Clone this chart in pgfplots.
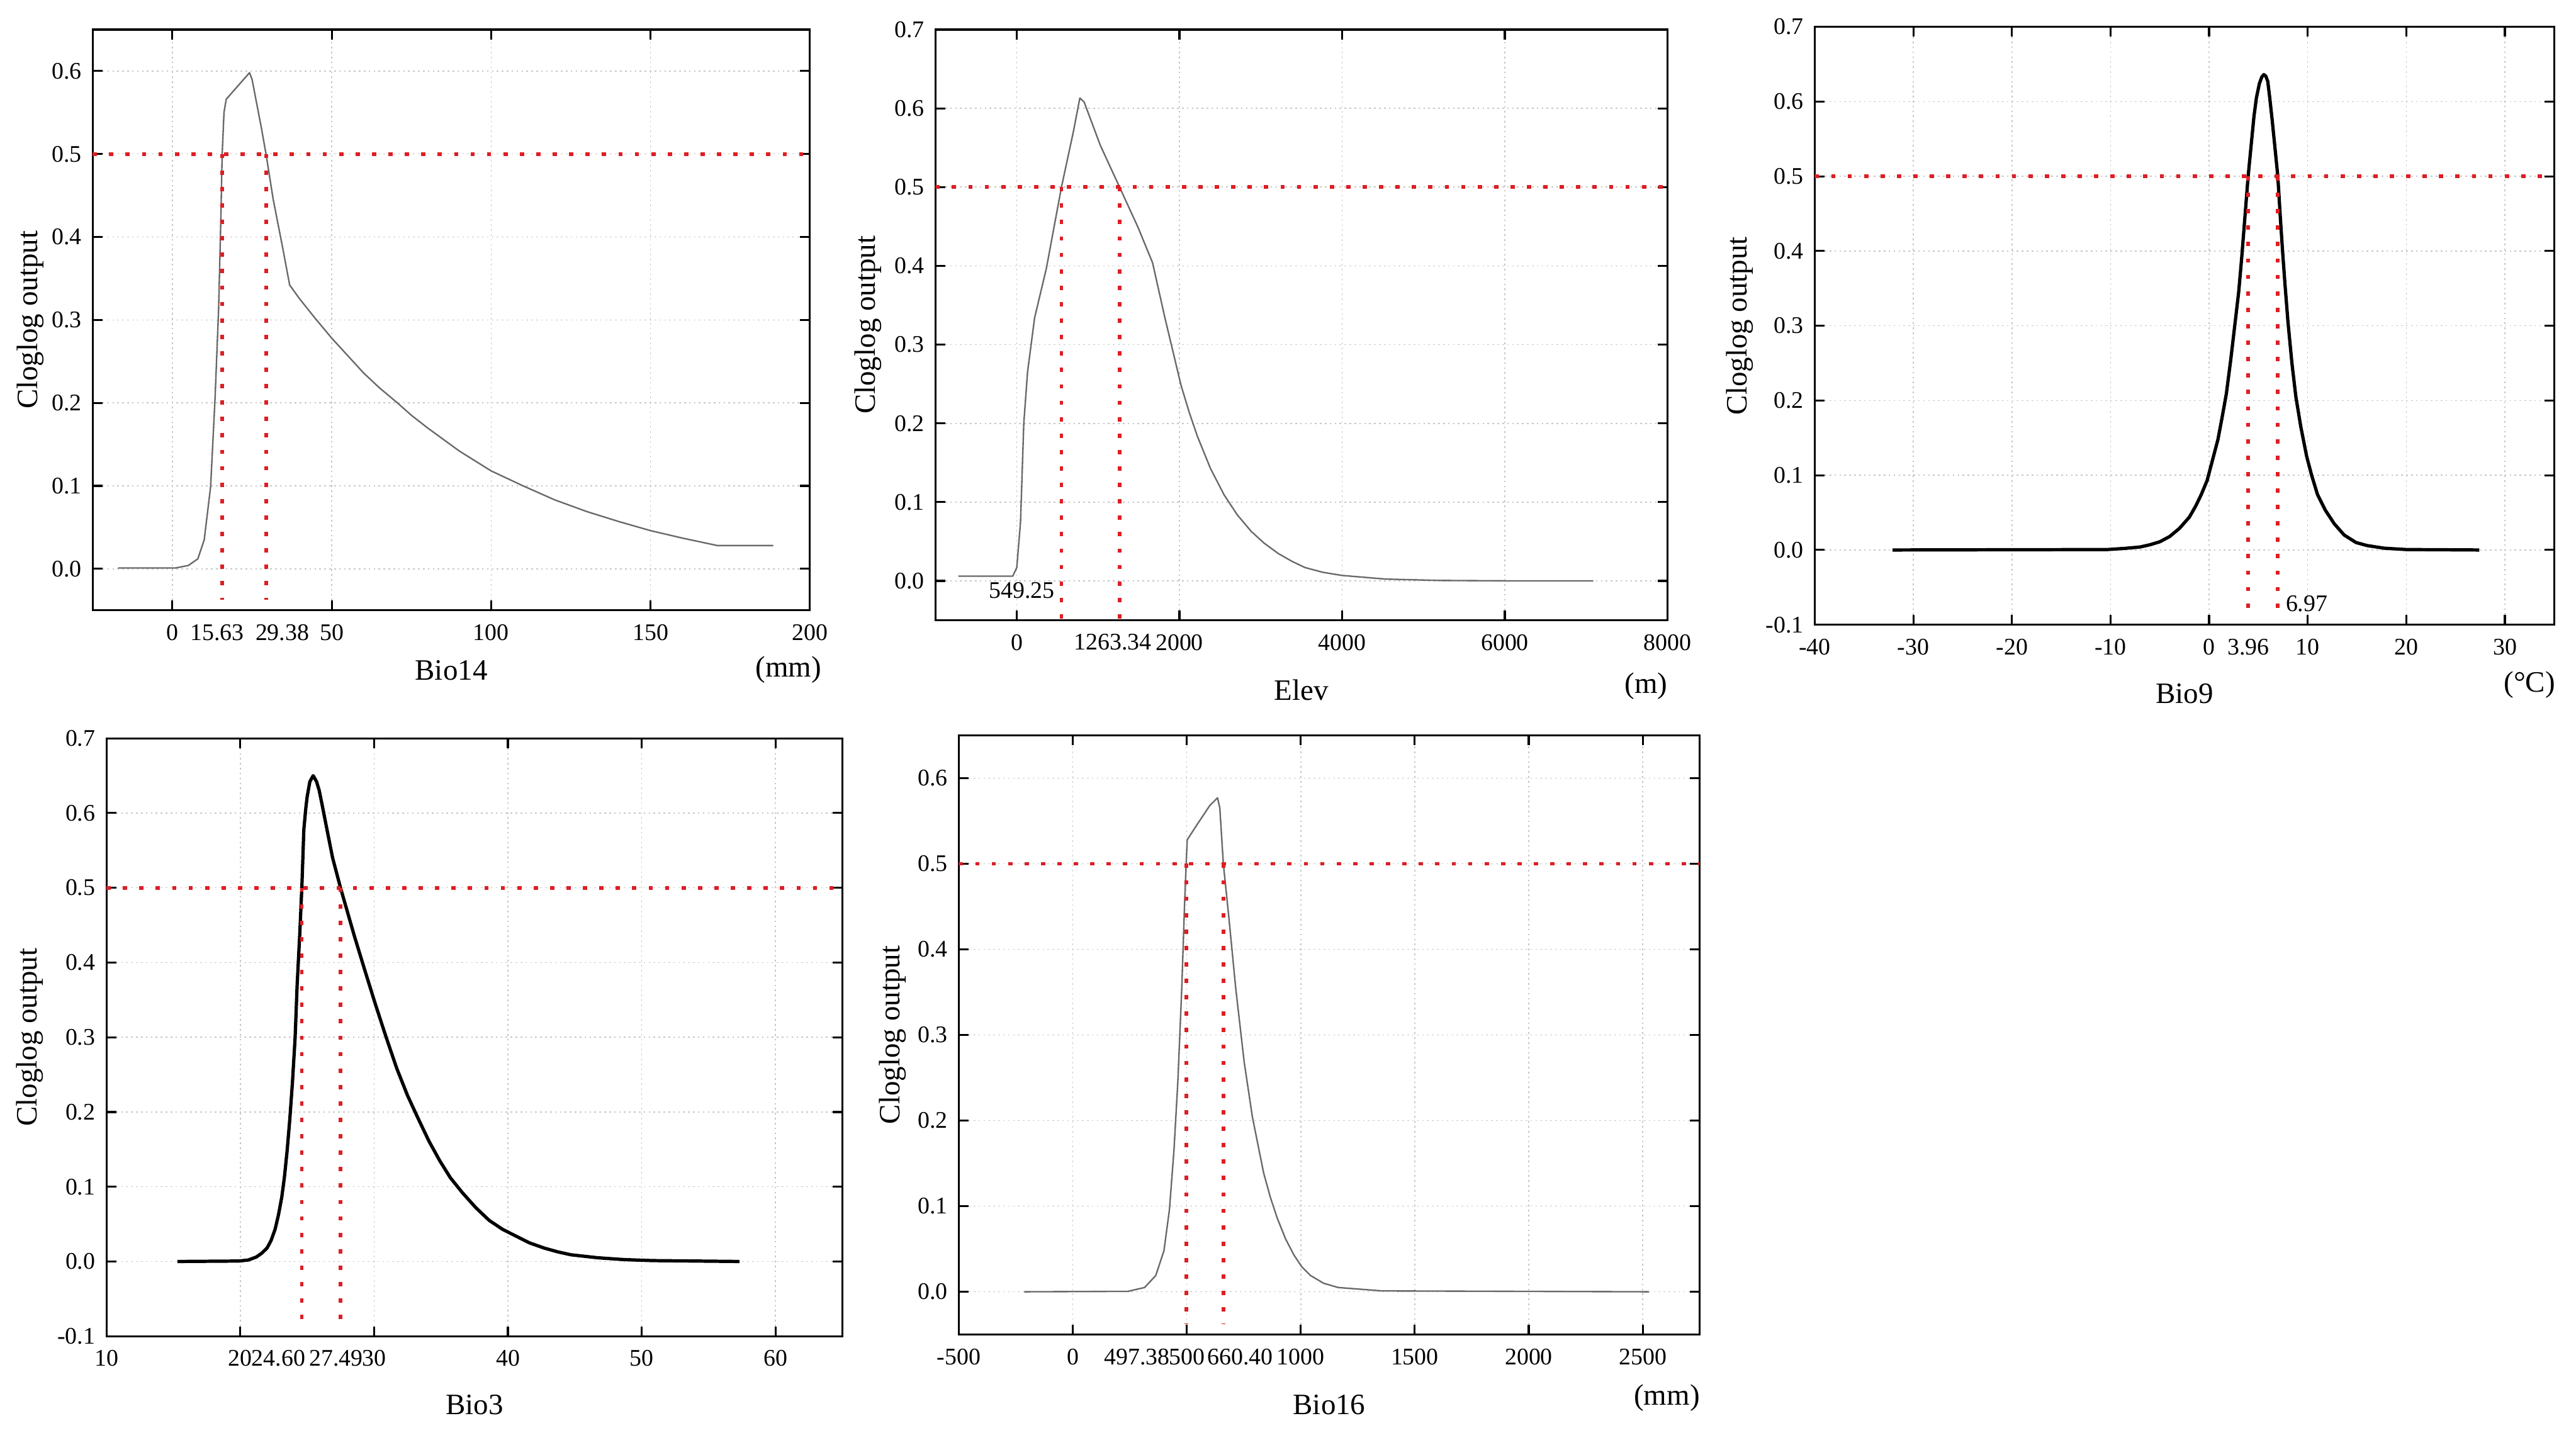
\documentclass[border=0pt]{standalone}
\usepackage{pgfplots}
\pgfplotsset{compat=1.18}
\usepackage{fontspec}
\setmainfont{Liberation Serif}

\definecolor{thr}{RGB}{222,30,36}
\definecolor{curvegray}{RGB}{105,105,105}

\tikzset{
  unitlabel/.style={font=\fontsize{18}{20}\selectfont, anchor=center},
  innerlabel/.style={font=\fontsize{14.5}{16}\selectfont},
}

\pgfplotsset{
  resp/.style={
    scale only axis,
    clip mode=individual,
    axis line style={line width=1.2pt},
    every tick/.style={black, line width=1.2pt},
    major tick length=6pt,
    tick align=inside,
    grid=major,
    major grid style={draw=gray!45, line width=0.6pt, dash pattern=on 1pt off 2pt},
    tick label style={font=\fontsize{14.5}{16}\selectfont},
    xticklabel style={yshift=-5pt},
    label style={font=\fontsize{18}{20}\selectfont},
    /pgf/number format/assume math mode=true,
    /pgf/number format/1000 sep={},
    ylabel={Cloglog output},
    yticklabel style={xshift=-3.3pt, /pgf/number format/fixed, /pgf/number format/fixed zerofill, /pgf/number format/precision=1},
    xlabel style={at={(axis description cs:0.5,0)}, anchor=center},
    ylabel style={anchor=center},
    extra x tick style={grid=none, major tick length=0pt},
  },
  thrline/.style={color=thr, line width=2.2pt, dash pattern=on 2.6pt off 7.4pt, forget plot},
  thincurve/.style={color=curvegray, line width=0.9pt, line join=round},
  boldcurve/.style={color=black, line width=2pt, line join=round},
}

\begin{document}
\begin{tikzpicture}
\useasboundingbox (0,0) rectangle (1568pt,872pt);

% ---------------- Bio14 ----------------
\begin{axis}[resp,
  at={(56.4pt,500.5pt)}, anchor=south west, width=436.6pt, height=353.5pt,
  xmin=-25, xmax=200, ymin=-0.05, ymax=0.65,
  xtick={0,50,100,150,200},
  ytick={0,0.1,0.2,0.3,0.4,0.5,0.6},
  extra x ticks={14,34.5}, extra x tick labels={15.63,29.38},
  xlabel={Bio14},
  xlabel style={yshift=-36.5pt},
  ylabel style={at={(axis description cs:-0.087,0.5)}},
]
\addplot[thincurve] coordinates {
 (-17,0.001) (1,0.001) (5,0.004) (8,0.012) (10,0.035) (12,0.099)
 (13.4,0.206) (14.5,0.312) (15.2,0.42) (15.63,0.5) (16.2,0.55) (16.9,0.566)
 (24.2,0.598) (25,0.59) (25.9,0.572) (27.9,0.532) (29.38,0.5) (31.6,0.446)
 (34.6,0.387) (36.8,0.342) (40,0.325) (45,0.301) (50,0.278) (55,0.257)
 (60,0.236) (65,0.218) (70.6,0.2) (75,0.185) (80,0.170) (90,0.142)
 (100,0.118) (110,0.1) (120,0.083) (130,0.069) (140,0.057) (150,0.046)
 (160,0.037) (171,0.028) (188.5,0.028)
};
\addplot[thrline] coordinates {(-25,0.5) (200,0.5)};
\addplot[thrline] coordinates {(15.63,0.5) (15.63,-0.037)};
\addplot[thrline] coordinates {(29.38,0.5) (29.38,-0.037)};
\node[unitlabel] at (axis description cs:1,0) [xshift=-13pt, yshift=-36.2pt] {(mm)};
\end{axis}

% ---------------- Elev ----------------
\begin{axis}[resp,
  at={(569.4pt,494.4pt)}, anchor=south west, width=445.6pt, height=359.6pt,
  xmin=-1000, xmax=8000, ymin=-0.05, ymax=0.7,
  xtick={0,2000,4000,6000,8000},
  ytick={0,0.1,0.2,0.3,0.4,0.5,0.6,0.7},
  extra x ticks={1180}, extra x tick labels={1263.34},
  xlabel={Elev},
  xlabel style={yshift=-42.5pt},
  ylabel style={at={(axis description cs:-0.092,0.5)}},
]
\addplot[thincurve] coordinates {
 (-720,0.006) (-50,0.006) (0,0.017) (46,0.075) (86,0.2) (132,0.265)
 (219,0.334) (364,0.397) (549.25,0.5) (695,0.57) (775,0.613) (828,0.608)
 (1027,0.553) (1263.34,0.5) (1490,0.449) (1669,0.404) (1821,0.334)
 (2020,0.248) (2120,0.214) (2219,0.184) (2380,0.143) (2550,0.109)
 (2710,0.084) (2881,0.063) (3040,0.048) (3212,0.035) (3380,0.025)
 (3543,0.017) (3760,0.011) (3994,0.007) (4537,0.0023) (5200,0.0006)
 (6000,0.0001) (7087,0.0)
};
\addplot[thrline] coordinates {(-1000,0.5) (8000,0.5)};
\addplot[thrline] coordinates {(549.25,0.5) (549.25,-0.05)};
\addplot[thrline] coordinates {(1263.34,0.5) (1263.34,-0.05)};
\node[innerlabel] at (axis cs:60,-0.0125) {549.25};
\node[unitlabel] at (axis description cs:1,0) [xshift=-13pt, yshift=-40pt] {(m)};
\end{axis}

% ---------------- Bio9 ----------------
\begin{axis}[resp,
  at={(1104.6pt,491.7pt)}, anchor=south west, width=450.1pt, height=364pt,
  xmin=-40, xmax=35, ymin=-0.1, ymax=0.7,
  xtick={-40,-30,-20,-10,0,10,20,30},
  ytick={-0.1,0,0.1,0.2,0.3,0.4,0.5,0.6,0.7},
  extra x ticks={4}, extra x tick labels={3.96},
  xlabel={Bio9},
  xlabel style={yshift=-42pt},
  ylabel style={at={(axis description cs:-0.1013,0.5)}},
]
\addplot[boldcurve] coordinates {
 (-32.1,0) (-10.3,0.0006) (-8.5,0.0022) (-7,0.004) (-6,0.007) (-5,0.011)
 (-4,0.018) (-3,0.029) (-2,0.044) (-1.35,0.059) (-0.8,0.074) (-0.2,0.093)
 (0.3,0.118) (0.9,0.148) (1.3,0.176) (1.75,0.209) (2.2,0.255) (2.6,0.300)
 (3.0,0.345) (3.3,0.39) (3.96,0.5) (4.55,0.58) (4.8,0.605) (5.1,0.624)
 (5.35,0.633) (5.55,0.636) (5.75,0.634) (5.95,0.627) (6.15,0.605)
 (6.4,0.575) (6.97,0.5) (7.2,0.45) (7.45,0.4) (7.7,0.355) (8.0,0.305)
 (8.4,0.25) (8.8,0.205) (9.3,0.165) (9.9,0.125) (10.4,0.1) (11,0.074)
 (11.8,0.053) (12.7,0.035) (13.7,0.02) (14.9,0.01) (16,0.006)
 (17.75,0.0024) (20,0.0006) (27.4,0)
};
\addplot[thrline] coordinates {(-40,0.5) (35,0.5)};
\addplot[thrline] coordinates {(3.96,0.5) (3.96,-0.09)};
\addplot[thrline] coordinates {(6.97,0.5) (6.97,-0.09)};
\node[innerlabel, anchor=west] at (axis cs:7.2,-0.072) {6.97};
\node[unitlabel] at (axis description cs:1,0) [xshift=-15pt, yshift=-36.4pt] {(°C)};
\end{axis}

% ---------------- Bio3 ----------------
\begin{axis}[resp,
  at={(64.8pt,58.6pt)}, anchor=south west, width=448pt, height=364pt,
  xmin=10, xmax=65, ymin=-0.1, ymax=0.7,
  xtick={10,20,30,40,50,60},
  ytick={-0.1,0,0.1,0.2,0.3,0.4,0.5,0.6,0.7},
  extra x ticks={22.85,27.15}, extra x tick labels={24.60,27.49},
  xlabel={Bio3},
  xlabel style={yshift=-41.6pt},
  ylabel style={at={(axis description cs:-0.1038,0.5)}},
]
\addplot[boldcurve] coordinates {
 (15.3,0) (19.9,0.0006) (20.6,0.002) (21.2,0.006) (21.6,0.011) (22,0.018)
 (22.3,0.028) (22.6,0.043) (22.85,0.062) (23.1,0.086) (23.3,0.113)
 (23.5,0.148) (23.7,0.19) (23.9,0.24) (24.1,0.3) (24.25,0.37) (24.45,0.44)
 (24.6,0.5) (24.75,0.578) (24.9,0.607) (25.0,0.622) (25.2,0.642)
 (25.45,0.650) (25.7,0.642) (25.9,0.630) (26.15,0.608) (26.4,0.585)
 (26.9,0.54) (27.49,0.5) (28.5,0.437) (29.3,0.39) (30.1,0.344) (30.9,0.3)
 (31.7,0.258) (32.5,0.222) (33.3,0.191) (34.1,0.161) (34.9,0.135)
 (35.7,0.112) (36.6,0.092) (37.6,0.072) (38.6,0.055) (39.6,0.043)
 (40.6,0.034) (41.6,0.025) (42.7,0.018) (43.7,0.013) (44.7,0.009)
 (46.7,0.005) (48.7,0.0025) (50.8,0.0012) (57.3,0)
};
\addplot[thrline] coordinates {(10,0.5) (65,0.5)};
\addplot[thrline] coordinates {(24.6,0.5) (24.6,-0.092)};
\addplot[thrline] coordinates {(27.49,0.5) (27.49,-0.092)};
\end{axis}

% ---------------- Bio16 ----------------
\begin{axis}[resp,
  at={(583.6pt,59.6pt)}, anchor=south west, width=451pt, height=364.8pt,
  xmin=-500, xmax=2750, ymin=-0.05, ymax=0.65,
  xtick={-500,0,500,1000,1500,2000,2500},
  ytick={0,0.1,0.2,0.3,0.4,0.5,0.6},
  extra x ticks={281,735}, extra x tick labels={497.38,660.40},
  xlabel={Bio16},
  xlabel style={yshift=-42.6pt},
  ylabel style={at={(axis description cs:-0.0894,0.5)}},
]
\addplot[thincurve] coordinates {
 (-213,0) (242,0.0005) (315,0.005) (364,0.019) (400,0.048) (424,0.096)
 (444,0.166) (461,0.246) (478,0.354) (490,0.45) (497.38,0.5) (502,0.528)
 (546,0.546) (601,0.568) (635,0.577) (645,0.565) (660.4,0.5) (684,0.439)
 (715,0.354) (752,0.268) (788,0.204) (837,0.139) (867,0.11) (897,0.086)
 (933,0.062) (970,0.043) (1005,0.029) (1043,0.019) (1100,0.01)
 (1164,0.005) (1358,0.001) (2527,0)
};
\addplot[thrline] coordinates {(-500,0.5) (2750,0.5)};
\addplot[thrline] coordinates {(497.38,0.5) (497.38,-0.0375)};
\addplot[thrline] coordinates {(660.4,0.5) (660.4,-0.0375)};
\node[unitlabel] at (axis description cs:1,0) [xshift=-20pt, yshift=-38.6pt] {(mm)};
\end{axis}
\end{tikzpicture}
\end{document}
